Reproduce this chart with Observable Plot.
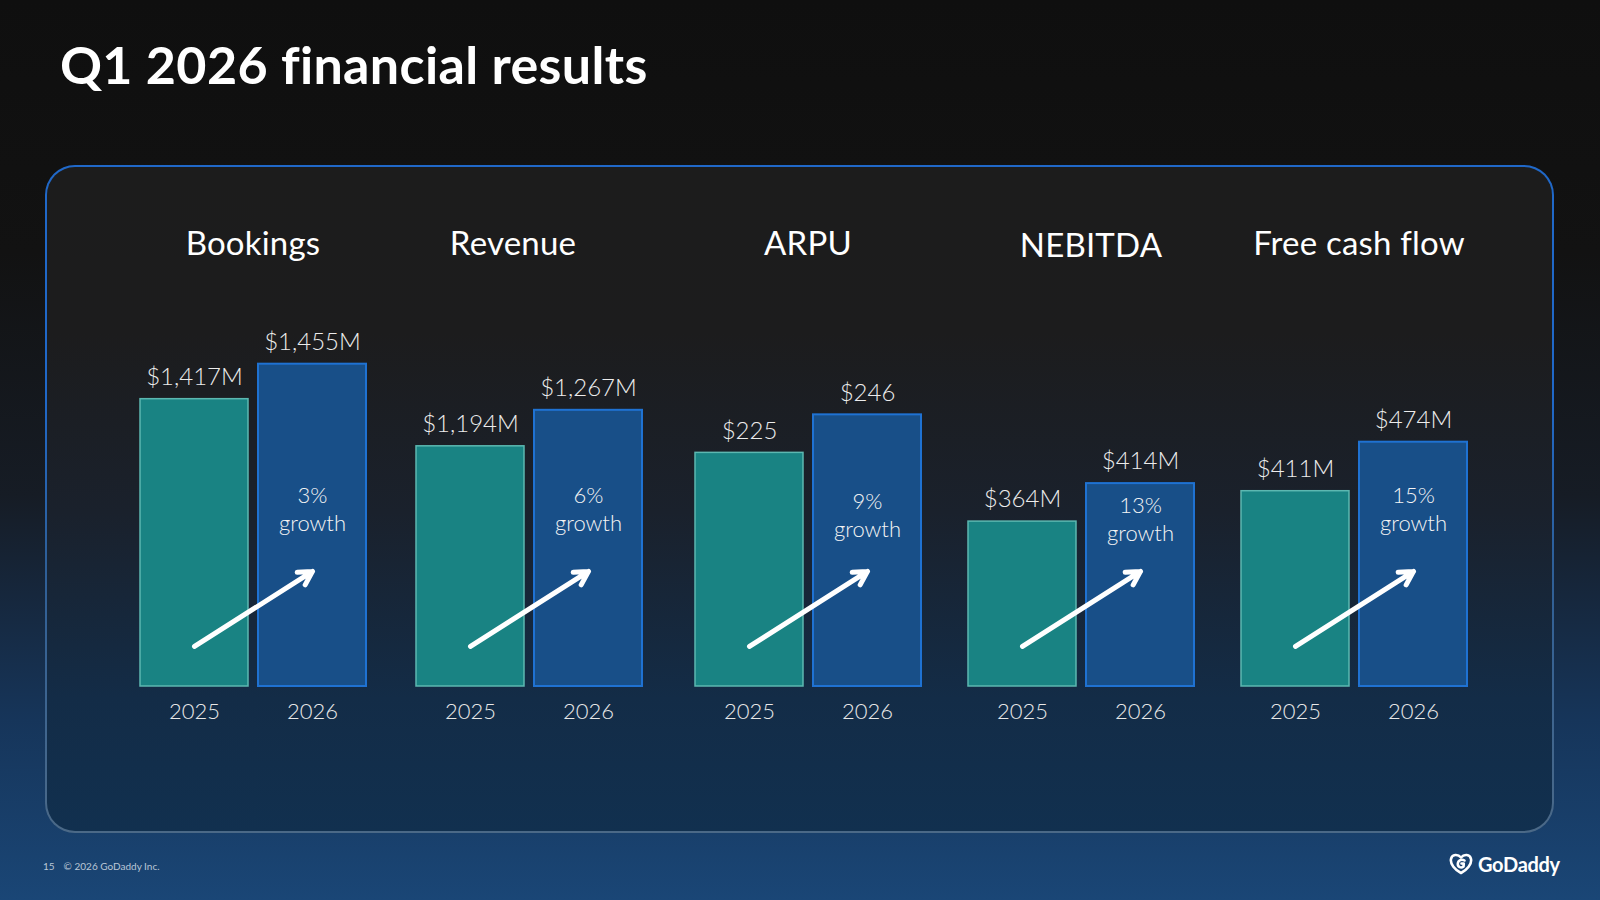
<!DOCTYPE html>
<html>
<head>
<meta charset="utf-8">
<script src="https://cdn.jsdelivr.net/npm/d3@7"></script>
<script src="https://cdn.jsdelivr.net/npm/@observablehq/plot@0.6"></script>
<style>
  html, body { margin: 0; padding: 0; }
  body {
    width: 1600px; height: 900px; position: relative; overflow: hidden;
    font-family: Lato, "Open Sans", sans-serif; color: #fff;
    background: linear-gradient(180deg, #0f0f0f 0%, #121212 28%, #161c25 55%, #16355a 80%, #1a4676 100%);
  }
  h1 {
    position: absolute; left: 60px; top: 33px; margin: 0;
    font-size: 52px; font-weight: 700; letter-spacing: 0.35px; color: #fff;
  }
  .panel {
    position: absolute; left: 45px; top: 165px; width: 1505px; height: 664px;
    border-radius: 30px; border: 2px solid transparent;
    background:
      linear-gradient(180deg, #1c1c1c 0%, #1c1c1d 25%, #1a212c 52%, #132c47 80%, #11304f 100%) padding-box,
      linear-gradient(180deg, #2068c8 0%, #2068c8 35%, #2e5f98 60%, #4b6987 100%) border-box;
  }
  .heading {
    position: absolute; transform: translate(-50%, -50%);
    font-size: 33px; font-weight: 400; color: #fff; white-space: nowrap; letter-spacing: 0.2px;
  }
  .chart { position: absolute; top: 290px; }
  .footer {
    position: absolute; left: 43px; top: 860px; font-size: 10px; color: #b9c6d6;
  }
  .footer span { margin-right: 9px; }
  .logo {
    position: absolute; left: 1449px; top: 852px; display: flex; align-items: center; gap: 5px;
    font-size: 20px; font-weight: 700; color: #fff; letter-spacing: -0.3px;
  }
</style>
</head>
<body>
<h1>Q1 2026 financial results</h1>
<div class="panel"></div>
<div id="charts"></div>
<div class="footer"><span>15</span>© 2026 GoDaddy Inc.</div>
<div class="logo">
  <svg width="24" height="24" viewBox="0 0 24 24" fill="none" stroke="#fff" stroke-width="2.6" stroke-linecap="round" stroke-linejoin="round">
    <path d="M12 5.5 C15 2 21 2 22 7 C23 12 18 18 12 21 C6 18 1 12 2 7 C3 2 9 2 12 5.5 Z"/>
    <path d="M15.5 8.5 C13 7 9 8 8.8 11.8 C8.6 15 12 16.5 14.5 14.5 L14.8 11.5 L12.5 11.5"/>
  </svg>
  <span>GoDaddy</span>
</div>
<script>
// Quarterly metrics, first quarter of each year
const metrics = ["Bookings", "Revenue", "ARPU", "NEBITDA", "Free cash flow"];
const years = ["2025", "2026"];
const q1_2025 = [1417, 1194, 225, 364, 411];
const q1_2026 = [1455, 1267, 246, 414, 474];
const units = ["M", "M", "", "M", "M"];
const growthPct = [3, 6, 9, 13, 15];
// Each metric has its own truncated value axis
const axisFloor = [1105, 707, 96, 147, 160];
const axisCeiling = [1459, 1368, 276, 576, 579];

// Layout of the five small charts on the slide
const chartLeft = [115, 391, 670, 943, 1216];
const headingX = [253, 513, 808, 1091, 1359];
const headingY = [242, 242, 242, 244, 242];
const growthDy = [148, 148, 154, 158, 148];

const teal = "#198383", tealEdge = "#5cb8b1";
const blue = "#184f88", blueEdge = "#1f72d2";
const fmt = d3.format(",");
const host = document.getElementById("charts");

metrics.forEach((name, i) => {
  const head = document.createElement("div");
  head.className = "heading";
  head.style.left = headingX[i] + "px";
  head.style.top = headingY[i] + "px";
  head.textContent = name;
  document.body.appendChild(head);

  const rows = [
    {year: years[0], value: q1_2025[i]},
    {year: years[1], value: q1_2026[i]}
  ];
  const lo = axisFloor[i], hi = axisCeiling[i];
  const at = (f) => lo + f * (hi - lo);
  const label = (d) => "$" + fmt(d.value) + units[i];

  const chart = Plot.plot({
    width: 276, height: 440,
    marginTop: 70, marginBottom: 44, marginLeft: 24, marginRight: 24,
    style: {background: "transparent", color: "#e8e8e8", fontFamily: "Lato, sans-serif", fontWeight: 300, overflow: "visible"},
    x: {domain: years, paddingInner: 0.084, paddingOuter: 0, label: null},
    y: {domain: [lo, hi], axis: null},
    marks: [
      Plot.barY(rows.filter(d => d.year === years[0]), {x: "year", y1: lo, y2: "value", fill: teal, stroke: tealEdge, strokeWidth: 1.5}),
      Plot.barY(rows.filter(d => d.year === years[1]), {x: "year", y1: lo, y2: "value", fill: blue, stroke: blueEdge, strokeWidth: 2}),
      Plot.text(rows, {x: "year", y: "value", text: label, dy: -22, fontSize: 24, fill: "#ececec"}),
      Plot.text([`${growthPct[i]}%\ngrowth`], {x: () => years[1], text: d => d, frameAnchor: "top", lineAnchor: "middle", dy: growthDy[i], lineHeight: 1.27, fontSize: 22, fill: "#f4f4f4"}),
      Plot.arrow([0], {x1: () => years[0], x2: () => years[1], y1: () => at(0.123), y2: () => at(0.353), stroke: "#ffffff", strokeWidth: 5, headLength: 4.6, headAngle: 58}),
      Plot.axisX({tickSize: 0, tickPadding: 17, fontSize: 22, fill: "#e8e8e8", label: null})
    ]
  });
  chart.classList.add("chart");
  chart.style.left = chartLeft[i] + "px";
  host.appendChild(chart);
});
</script>
</body>
</html>
